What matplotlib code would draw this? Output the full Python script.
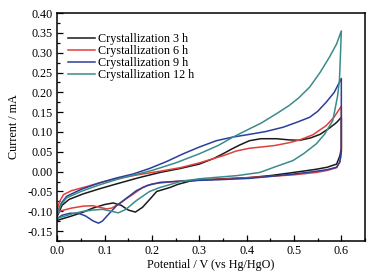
import matplotlib
matplotlib.use('Agg')
import matplotlib.pyplot as plt
from matplotlib.ticker import MultipleLocator

# Cyclic voltammograms: forward scan 0 -> 0.6 V, then reverse scan back to 0
v_3h = [0.0, 0.01, 0.025, 0.055, 0.09, 0.125, 0.17, 0.217, 0.26, 0.30, 0.33, 0.35, 0.37, 0.385,
        0.406, 0.43, 0.463, 0.49, 0.512, 0.535, 0.555, 0.575, 0.59, 0.6,
        0.6, 0.597, 0.59, 0.57, 0.547, 0.5, 0.45, 0.406, 0.35, 0.3, 0.28, 0.255, 0.238, 0.21,
        0.196, 0.18, 0.165, 0.15, 0.135, 0.118, 0.1, 0.075, 0.055, 0.03, 0.0]
i_3h = [-0.112, -0.085, -0.07, -0.056, -0.043, -0.031, -0.016, -0.002, 0.008, 0.019, 0.033, 0.045,
        0.058, 0.067, 0.078, 0.083, 0.083, 0.080, 0.079, 0.085, 0.094, 0.110, 0.124, 0.137,
        0.06, 0.04, 0.019, 0.011, 0.006, -0.002, -0.01, -0.015, -0.018, -0.021, -0.024, -0.032,
        -0.04, -0.05, -0.069, -0.09, -0.102, -0.097, -0.085, -0.079, -0.083, -0.092, -0.102,
        -0.112, -0.123]

v_6h = [0.0, 0.005, 0.013, 0.03, 0.055, 0.09, 0.125, 0.17, 0.217, 0.26, 0.30, 0.33, 0.35, 0.378,
        0.406, 0.43, 0.46, 0.49, 0.512, 0.54, 0.568, 0.585, 0.6,
        0.6, 0.597, 0.59, 0.57, 0.547, 0.5, 0.45, 0.406, 0.35, 0.3, 0.266, 0.23, 0.2, 0.18, 0.16,
        0.146, 0.13, 0.115, 0.104, 0.09, 0.075, 0.055, 0.03, 0.01, 0.0]
i_6h = [-0.094, -0.075, -0.058, -0.048, -0.04, -0.028, -0.018, -0.008, 0.001, 0.01, 0.022, 0.033,
        0.04, 0.052, 0.059, 0.062, 0.066, 0.073, 0.08, 0.093, 0.116, 0.138, 0.165,
        0.05, 0.025, 0.01, 0.003, -0.002, -0.008, -0.012, -0.015, -0.019, -0.021, -0.023, -0.027,
        -0.031, -0.04, -0.057, -0.068, -0.082, -0.092, -0.094, -0.09, -0.086, -0.087, -0.092,
        -0.098, -0.103]

v_9h = [0.0, 0.008, 0.02, 0.05, 0.09, 0.125, 0.16, 0.195, 0.23, 0.266, 0.30, 0.336, 0.37, 0.406,
        0.44, 0.477, 0.505, 0.533, 0.55, 0.568, 0.585, 0.6,
        0.6, 0.597, 0.59, 0.57, 0.547, 0.5, 0.45, 0.406, 0.35, 0.3, 0.26, 0.217, 0.19, 0.167,
        0.145, 0.125, 0.108, 0.095, 0.087, 0.075, 0.06, 0.045, 0.027, 0.01, 0.0]
i_9h = [-0.105, -0.08, -0.062, -0.045, -0.028, -0.016, -0.006, 0.008, 0.025, 0.045, 0.062, 0.078,
        0.087, 0.094, 0.101, 0.112, 0.124, 0.137, 0.152, 0.175, 0.2, 0.235,
        0.05, 0.025, 0.011, 0.005, 0.001, -0.006, -0.012, -0.017, -0.02, -0.022, -0.024, -0.027,
        -0.035, -0.048, -0.068, -0.086, -0.108, -0.125, -0.13, -0.124, -0.112, -0.105, -0.105,
        -0.11, -0.118]

v_12h = [0.0, 0.008, 0.02, 0.05, 0.09, 0.125, 0.16, 0.2, 0.25, 0.30, 0.34, 0.371, 0.406, 0.43,
         0.463, 0.49, 0.51, 0.533, 0.555, 0.575, 0.59, 0.6,
         0.598, 0.596, 0.592, 0.582, 0.565, 0.547, 0.52, 0.498, 0.46, 0.428, 0.38, 0.33, 0.3,
         0.26, 0.217, 0.195, 0.167, 0.145, 0.129, 0.115, 0.095, 0.075, 0.055, 0.03, 0.0]
i_12h = [-0.108, -0.083, -0.066, -0.05, -0.033, -0.02, -0.009, 0.003, 0.022, 0.045, 0.066, 0.087,
         0.108, 0.122, 0.146, 0.167, 0.186, 0.213, 0.25, 0.289, 0.322, 0.355,
         0.29, 0.23, 0.19, 0.129, 0.095, 0.07, 0.045, 0.028, 0.012, -0.002, -0.01, -0.015, -0.018,
         -0.025, -0.04, -0.05, -0.073, -0.095, -0.104, -0.1, -0.095, -0.097, -0.1, -0.107, -0.118]

labels = ['Crystallization 3 h', 'Crystallization 6 h', 'Crystallization 9 h', 'Crystallization 12 h']
colors = ['#1a1a1a', '#e0403a', '#2b3f9a', '#3a8c8a']

plt.rcParams['font.family'] = ['Liberation Serif', 'DejaVu Serif']
plt.rcParams['font.size'] = 8.7

fig = plt.figure(figsize=(3.78, 2.74), dpi=100)
ax = fig.add_axes([0.1516, 0.1204, 0.814, 0.832])

for v, i, lab, c in zip([v_3h, v_6h, v_9h, v_12h], [i_3h, i_6h, i_9h, i_12h], labels, colors):
    ax.plot(v, i, color=c, lw=1.1, label=lab)

ax.set_xlim(0.0, 0.65)
ax.set_ylim(-0.175, 0.40)
ax.xaxis.set_major_locator(MultipleLocator(0.1))
ax.xaxis.set_minor_locator(MultipleLocator(0.05))
ax.yaxis.set_major_locator(MultipleLocator(0.05))
ax.yaxis.set_minor_locator(MultipleLocator(0.025))
ax.xaxis.set_major_formatter(plt.FormatStrFormatter('%.1f'))
ax.yaxis.set_major_formatter(plt.FormatStrFormatter('%.2f'))
ax.tick_params(which='both', direction='in', top=False, right=False, width=0.9)
ax.tick_params(which='major', length=4)
ax.tick_params(which='minor', length=2)
ax.tick_params(axis='y', pad=3.5)
ax.tick_params(axis='x', pad=3)
for s in ax.spines.values():
    s.set_linewidth(1.1)

ax.set_xlabel('Potential / V (vs Hg/HgO)', labelpad=1)
ax.set_ylabel('Current / mA', labelpad=5)

ax.legend(loc='upper left', bbox_to_anchor=(0.035, 0.912), frameon=False, borderaxespad=0,
          borderpad=0, handlelength=2.2, handletextpad=0.3, labelspacing=0.0)

fig.savefig('out.png', dpi=100)
